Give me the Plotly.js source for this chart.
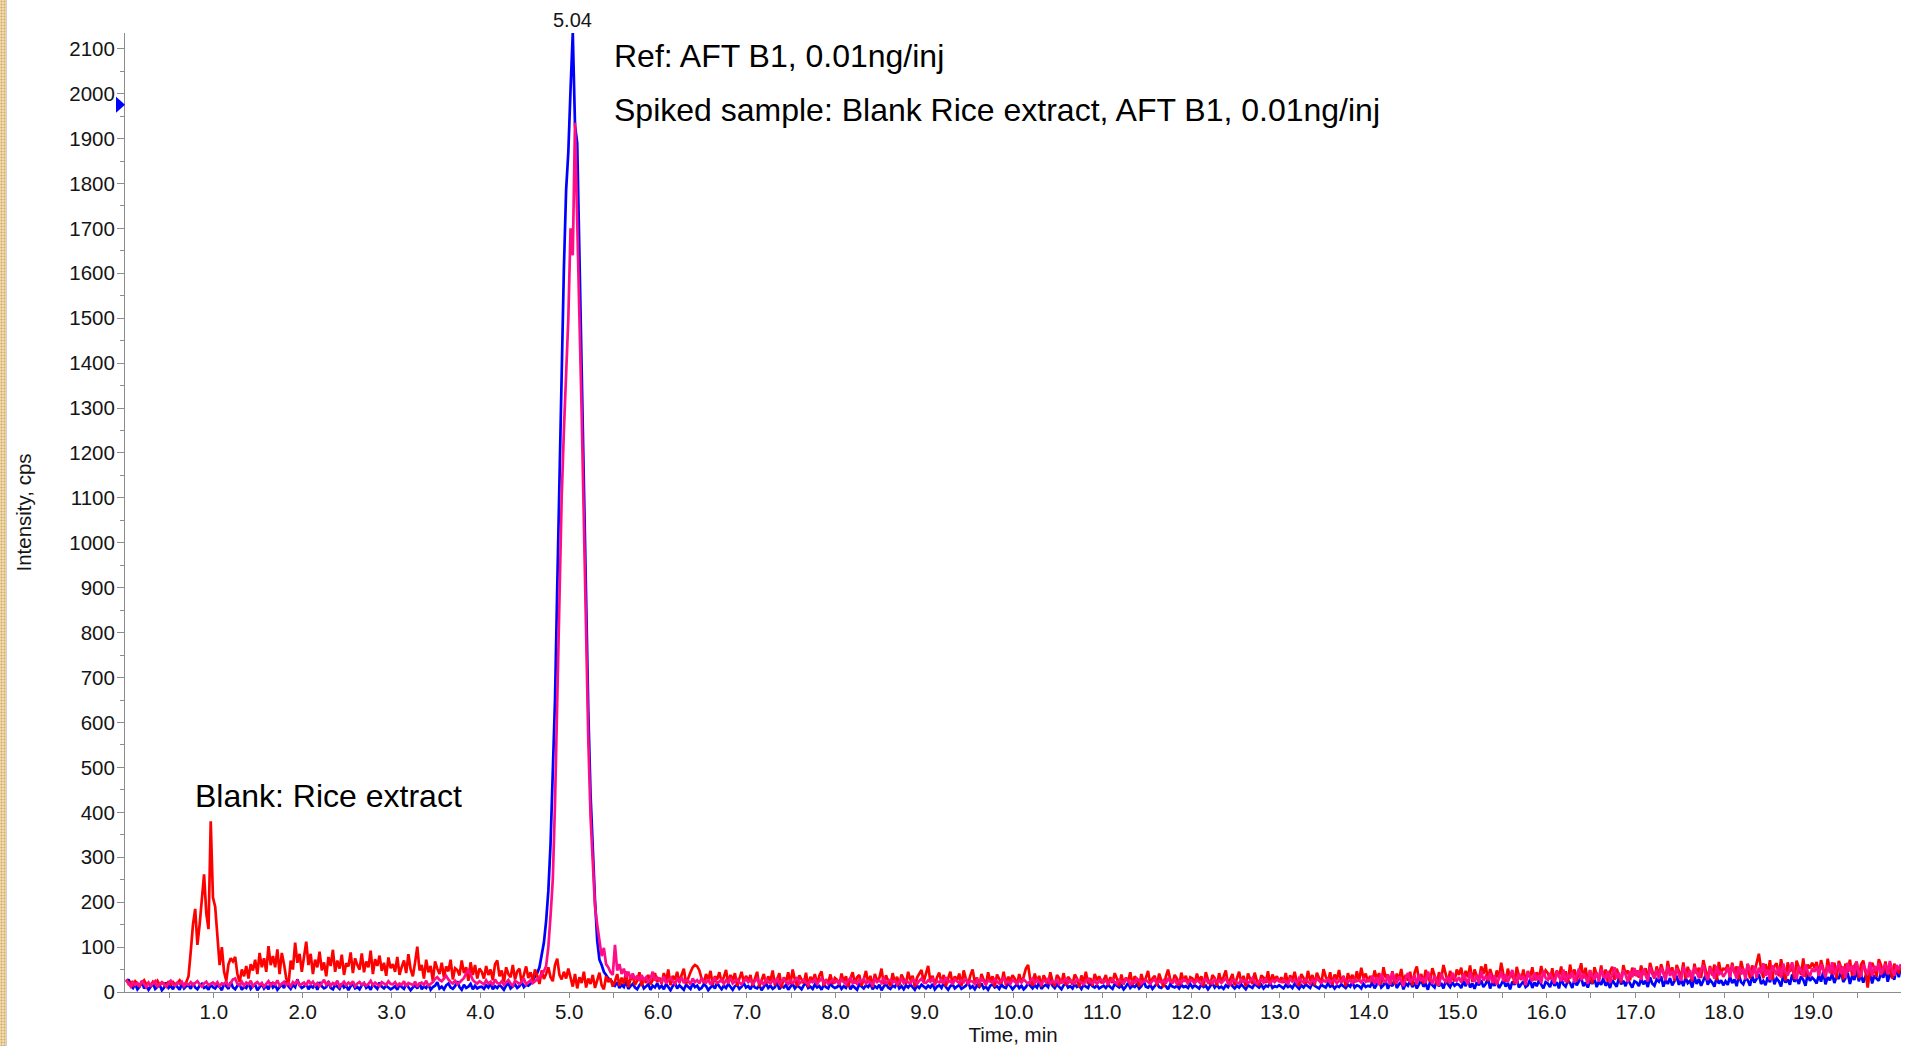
<!DOCTYPE html>
<html>
<head>
<meta charset="utf-8">
<script src="https://cdn.plot.ly/plotly-3.0.1.min.js"></script>
<style>
  html, body { margin: 0; padding: 0; background: #ffffff; overflow: hidden; }
  #chart { position: absolute; left: 0; top: 0; width: 1920px; height: 1046px; }
  #strip {
    position: absolute; left: 0; top: 0; width: 6px; height: 1046px; z-index: 5;
    background-color: #efdcae;
    background-image: radial-gradient(circle, #d8b574 0.9px, transparent 1.2px);
    background-size: 3px 3px;
    border-right: 1px solid #cfcfcf;
  }
</style>
</head>
<body>
<div id="strip"></div>
<div id="chart"></div>
<script>
// ---- sampling of the chromatogram (min) ----
const startTime = 0.015;
const sampleStep = 0.025;

// ---- Ref: AFT B1 standard, 0.01 ng/inj (blue), one row per minute ----
const refIntensity = [
  22,28,14,9,18,6,12,24,8,15,5,13,19,7,11,16,4,10,21,9,14,6,17,12,5,19,8,13,15,7,20,10,6,14,18,9,12,5,16,11,
  8,15,11,4,19,13,7,22,10,6,14,17,5,12,9,20,7,13,16,4,11,18,8,14,6,21,10,15,5,12,17,9,24,13,7,16,11,28,15,9,
  12,19,6,14,10,17,5,22,13,8,11,24,9,6,16,12,7,19,10,14,4,13,18,8,11,6,15,20,9,13,5,17,11,7,21,12,8,14,10,6,
  9,13,5,16,11,7,18,12,4,10,15,8,20,6,13,9,17,5,11,14,22,8,12,6,15,19,10,7,13,24,11,5,16,9,12,18,6,14,8,11,
  12,7,15,10,19,6,13,9,16,11,5,14,20,8,12,17,9,13,22,11,16,14,19,25,35,42,55,82,110,158,225,330,470,650,900,1150,1400,1610,1785,1870,
  2010,2135,1930,1890,1640,1380,1120,860,625,440,300,205,115,72,60,45,38,30,27,20,14,22,9,16,11,25,7,13,18,10,6,15,21,8,12,17,5,14,10,19,
  9,14,6,18,11,4,13,20,8,15,10,5,16,12,7,19,11,14,6,9,17,13,4,10,15,8,21,12,6,14,9,18,11,5,13,16,7,12,20,10,
  13,6,17,10,8,15,4,12,19,9,14,7,11,22,6,13,10,16,5,12,18,8,14,11,6,15,20,9,12,7,17,10,13,5,16,11,8,19,12,9,
  11,16,7,13,9,20,6,14,10,5,17,12,8,15,11,19,6,13,9,16,4,12,18,10,7,14,11,21,8,13,6,15,10,17,12,5,14,9,16,11,
  8,14,10,18,6,12,15,9,20,11,5,13,17,8,12,16,7,10,14,22,9,13,6,15,11,19,8,12,5,14,17,10,13,7,16,11,9,20,12,6,
  12,17,9,14,6,11,19,13,8,15,10,22,7,13,16,11,28,14,9,17,12,6,15,20,10,13,8,18,11,14,7,16,12,9,21,13,10,15,8,12,
  14,9,16,11,7,18,13,10,15,6,12,20,9,14,11,17,8,13,25,12,10,16,7,14,19,11,9,15,13,6,17,12,10,14,8,16,11,13,9,18,
  10,15,12,8,17,11,14,6,13,19,10,16,9,12,7,15,11,21,13,8,14,10,17,12,6,15,11,9,18,13,10,16,8,14,12,20,9,13,11,15,
  12,8,16,11,14,9,18,13,7,15,10,17,12,9,20,14,11,8,16,13,10,19,12,15,8,14,11,17,13,9,16,12,22,10,15,13,8,18,11,14,
  12,22,8,18,26,10,15,24,7,20,13,28,9,17,23,6,19,14,25,11,21,8,16,27,12,19,5,23,15,10,26,13,20,8,24,17,11,22,14,18,
  16,9,24,13,28,10,19,7,22,15,26,11,18,30,8,21,14,25,9,17,27,12,20,6,23,16,29,10,18,24,11,15,28,9,21,13,26,17,8,22,
  19,11,27,14,22,8,30,17,12,25,20,9,28,15,23,33,13,21,10,26,18,29,11,24,16,31,14,22,9,27,19,12,32,17,25,13,28,20,10,24,
  21,13,30,17,25,11,33,19,14,28,23,35,12,26,18,31,15,24,36,16,27,13,32,20,25,10,34,18,29,14,24,37,16,27,21,12,33,19,26,15,
  24,16,34,20,28,13,38,22,17,31,26,14,36,21,29,40,18,25,15,33,22,42,17,30,24,12,37,21,28,16,39,23,31,18,35,27,14,41,25,32,
  27,19,38,23,45,17,33,26,41,20,35,29,48,22,31,43,18,36,27,50,24,39,21,34,28,46,19,37,30,25,44,32,52,23,40,35,28,55,33,58
];

// ---- Spiked sample: blank rice extract + AFT B1, 0.01 ng/inj (pink) ----
const spikedIntensity = [
  26,18,12,22,16,20,14,25,17,11,21,15,19,24,13,18,22,16,12,20,25,17,14,21,18,23,13,19,16,22,15,20,24,17,12,19,23,15,18,21,
  16,22,13,19,17,24,12,20,28,30,18,15,23,14,21,17,25,13,19,22,16,20,12,18,24,15,21,17,26,14,19,23,16,20,13,22,18,25,15,19,
  21,14,26,18,23,15,20,13,19,27,16,22,14,20,17,25,12,18,23,15,21,17,24,13,19,22,16,20,14,18,25,15,21,17,13,22,19,16,24,18,
  17,22,14,19,16,24,13,20,18,15,23,12,19,21,16,25,14,18,22,29,33,27,24,30,36,28,22,19,25,18,21,26,31,42,48,38,27,22,19,24,
  21,17,26,19,23,15,28,20,18,24,16,22,27,19,14,25,21,18,23,30,17,22,26,20,24,28,32,40,46,58,100,170,250,420,650,900,1100,1250,1380,1500,
  1700,1640,1935,1680,1500,1290,1050,780,560,390,270,190,150,108,80,98,62,55,44,38,105,48,62,40,52,33,45,30,41,28,36,25,38,27,33,22,30,45,26,32,
  28,22,35,19,26,31,24,18,29,23,33,20,27,25,17,30,22,26,19,32,24,21,28,17,25,30,20,23,27,18,26,22,31,19,24,28,21,17,25,29,
  22,27,18,25,30,20,24,16,28,23,19,26,21,31,17,24,29,22,18,26,20,25,33,19,23,27,21,17,25,22,28,19,24,30,20,26,18,23,27,21,
  25,19,28,22,17,26,31,20,24,18,27,23,29,19,25,21,16,28,22,26,20,32,18,24,27,21,25,17,23,29,20,26,22,19,28,24,18,25,30,21,
  20,26,23,29,18,24,21,27,19,33,22,25,17,28,24,20,26,22,30,19,25,23,18,27,21,29,24,17,26,22,20,28,23,19,25,31,21,24,18,27,
  23,19,26,21,28,24,18,25,30,20,27,22,17,26,23,29,19,24,21,27,18,25,22,31,20,26,23,19,28,24,21,17,25,29,22,20,26,18,24,27,
  21,26,19,24,28,22,18,27,23,20,29,25,17,24,21,30,26,19,23,27,22,18,25,28,20,24,21,26,19,31,23,22,27,18,25,20,28,24,21,26,
  24,20,27,22,18,26,29,21,25,19,28,23,26,20,24,30,22,17,27,25,21,19,28,23,26,20,24,31,22,18,25,27,21,29,23,20,26,22,28,24,
  22,27,24,19,29,23,26,20,31,25,21,28,24,18,27,22,30,25,20,26,23,29,21,24,28,19,26,23,32,25,22,27,20,29,24,26,21,30,23,27,
  24,36,18,33,15,40,27,21,38,16,44,29,19,35,25,13,31,42,22,28,37,17,39,24,30,20,45,32,18,36,26,14,41,29,23,34,19,43,31,25,
  33,21,40,26,17,44,30,23,38,19,47,25,35,28,42,20,37,16,31,46,24,39,22,34,49,27,18,41,29,36,15,45,32,24,43,26,38,20,48,31,
  27,42,31,19,46,33,24,50,22,39,30,45,21,37,52,26,41,34,18,48,35,28,44,23,51,36,29,47,20,40,55,30,43,25,49,38,22,46,33,53,
  35,48,27,52,38,24,56,40,31,50,29,54,42,26,58,36,47,30,53,39,25,57,43,33,49,28,55,41,32,51,60,37,27,54,44,30,58,38,46,34,
  42,55,33,60,45,30,57,39,52,28,62,46,35,58,31,54,41,64,36,50,27,59,47,38,56,32,63,44,37,53,66,40,29,57,48,34,61,45,35,52,
  45,58,36,62,48,33,60,42,66,38,52,63,40,57,31,65,46,59,37,68,44,34,61,50,39,67,35,58,47,64,38,53,62,41,69,49,36,60,51,62
];

// ---- Blank: rice extract (red) ----
const blankIntensity = [
  28,18,22,15,24,19,13,21,26,17,20,14,23,18,25,16,21,19,13,24,17,22,15,20,26,18,16,22,35,90,150,185,105,150,210,262,175,140,380,210,
  190,125,60,100,45,25,62,75,68,78,40,22,50,35,58,30,62,48,72,40,87,55,75,45,102,60,80,55,95,40,87,62,30,16,70,50,110,65,85,45,
  75,112,60,85,40,72,55,90,48,66,35,78,58,94,45,70,52,83,38,64,57,88,42,75,60,50,86,44,68,55,92,40,73,58,81,47,65,36,77,53,
  62,45,78,38,56,70,42,84,50,35,66,101,48,60,30,72,44,58,25,68,52,40,65,33,57,46,72,28,53,49,37,70,42,55,25,66,38,60,30,52,
  45,30,58,38,50,26,62,70,35,48,22,55,40,33,60,28,46,52,20,42,57,31,44,25,50,36,18,48,29,40,55,33,24,60,74,38,28,45,30,52,
  28,12,40,8,33,20,45,10,30,18,38,9,26,43,15,6,35,22,30,12,24,40,14,32,18,46,11,28,36,16,25,44,13,31,20,38,17,27,42,22,
  32,18,42,24,50,15,36,27,45,20,38,52,18,33,44,55,60,57,48,30,20,40,26,47,16,35,28,44,22,33,49,19,38,26,42,14,31,45,21,36,
  24,38,14,32,45,12,28,40,18,35,25,48,15,30,42,10,33,22,44,17,50,27,13,37,29,19,43,11,34,24,40,16,36,46,14,28,21,39,18,31,
  27,16,41,22,35,12,30,44,19,33,38,14,28,47,20,36,11,40,25,31,52,17,37,24,13,42,21,34,15,39,28,18,45,26,36,12,32,41,49,23,
  40,58,24,36,15,33,43,20,38,13,30,45,18,35,26,41,14,48,29,17,37,50,22,32,11,40,27,16,44,23,35,12,39,30,19,45,15,34,25,37,
  30,16,40,21,34,52,60,26,14,41,22,36,12,37,28,18,44,24,13,38,31,19,42,15,34,27,17,39,30,11,37,22,45,18,31,14,40,26,35,20,
  26,38,15,33,20,42,29,13,39,17,32,24,44,16,35,27,12,40,22,31,47,18,30,36,14,41,25,11,34,50,28,19,38,30,15,43,23,36,17,33,
  30,18,41,24,35,13,44,27,16,38,31,14,42,22,34,48,17,30,40,15,28,45,21,36,12,41,29,18,43,25,14,37,32,20,46,16,39,27,35,22,
  33,20,42,17,37,26,45,22,14,40,31,18,47,25,38,15,43,29,19,51,34,23,44,16,39,28,49,20,36,13,42,27,38,21,46,24,54,30,41,22,
  36,22,48,28,42,18,55,31,39,20,46,17,41,27,51,21,38,25,45,15,43,57,26,40,19,49,33,23,53,37,16,44,29,60,38,21,47,32,24,50,
  38,54,25,47,33,59,22,50,36,28,57,40,62,24,51,34,20,48,30,65,39,23,52,31,45,18,56,35,27,50,21,47,32,55,26,44,29,58,36,48,
  42,28,53,24,48,33,57,27,46,20,61,35,50,25,44,64,30,54,22,49,19,55,38,29,59,32,50,23,45,56,27,52,36,21,60,40,48,26,54,37,
  48,32,59,38,53,27,65,44,30,57,35,62,45,28,69,40,55,25,60,47,33,66,29,56,42,24,63,41,54,31,71,46,28,58,37,61,26,67,43,52,
  50,61,34,65,42,57,28,69,48,36,63,30,59,44,67,85,52,31,62,40,71,27,58,64,35,73,47,26,66,45,60,29,70,51,38,75,33,61,53,65,
  54,67,38,71,52,33,74,49,40,65,30,69,55,28,63,44,72,36,58,67,31,61,70,45,10,48,65,52,34,73,60,42,68,39,59,30,63,50,44,57
];

// ---- axis ticks and labels ----
const xTickVals = [1,2,3,4,5,6,7,8,9,10,11,12,13,14,15,16,17,18,19];
const xTickText = ["1.0","2.0","3.0","4.0","5.0","6.0","7.0","8.0","9.0","10.0","11.0","12.0","13.0","14.0","15.0","16.0","17.0","18.0","19.0"];

// ---- labels ----
const peakTime = 5.04;
const peakLabel = "5.04";
const peakLevel = 2135;
const markerLevel = 1975;   // blue marker on the intensity axis
const noteRef = "Ref: AFT B1, 0.01ng/inj";
const noteSpiked = "Spiked sample: Blank Rice extract, AFT B1, 0.01ng/inj";
const noteBlank = "Blank: Rice extract";

const FONT = "Liberation Sans, Arial, Helvetica, sans-serif";
const AXIS_GREY = "#8c8c8c";
const TEXT = "#151515";

function trace(values, color) {
  return {
    type: "scatter", mode: "lines",
    x0: startTime, dx: sampleStep, y: values,
    line: { color: color, width: 2.7 },
    hoverinfo: "skip"
  };
}

const data = [
  trace(refIntensity, "#0000ff"),
  trace(blankIntensity, "#ff0000"),
  trace(spikedIntensity, "#ff0d86")
];

const layout = {
  width: 1920, height: 1046,
  margin: { l: 125, r: 19, t: 33, b: 54, pad: 0 },
  paper_bgcolor: "#ffffff", plot_bgcolor: "#ffffff",
  showlegend: false,
  font: { family: FONT, color: TEXT },
  xaxis: {
    range: [0, 19.99],
    showline: true, linecolor: AXIS_GREY, linewidth: 1,
    showgrid: false, zeroline: false,
    ticks: "outside", ticklen: 5, tickcolor: AXIS_GREY, tickwidth: 1,
    tickmode: "array", tickvals: xTickVals, ticktext: xTickText,
    tickfont: { size: 20.5, color: TEXT, family: FONT },
    ticklabelstandoff: -4,
    minor: { tickmode: "linear", tick0: 0.5, dtick: 1, ticks: "outside", ticklen: 5, tickcolor: AXIS_GREY, showgrid: false },
    title: { text: "Time, min", font: { size: 20.5, color: TEXT, family: FONT }, standoff: 5 }
  },
  yaxis: {
    range: [0, 2135],
    showline: true, linecolor: AXIS_GREY, linewidth: 1,
    showgrid: false, zeroline: false,
    ticks: "outside", ticklen: 7, tickcolor: AXIS_GREY, tickwidth: 1,
    tickmode: "linear", tick0: 0, dtick: 100,
    tickfont: { size: 20.5, color: TEXT, family: FONT },
    ticklabelstandoff: -2,
    minor: { tickmode: "linear", tick0: 50, dtick: 100, ticks: "outside", ticklen: 4, tickcolor: AXIS_GREY, showgrid: false },
    title: { text: "Intensity, cps", font: { size: 20.5, color: TEXT, family: FONT }, standoff: 32 }
  },
  shapes: [
    {
      type: "path", xref: "paper", yref: "y",
      xsizemode: "pixel", ysizemode: "pixel",
      xanchor: 0, yanchor: markerLevel,
      path: "M -9 -8 L 0 0 L -9 8 Z",
      fillcolor: "#0000ff", line: { width: 0 }
    }
  ],
  annotations: [
    { x: peakTime, y: peakLevel, xref: "x", yref: "y", text: peakLabel, showarrow: false,
      xanchor: "center", yanchor: "bottom", yshift: 0, font: { size: 20, color: TEXT } },
    { x: 5.48, y: 2084, xref: "x", yref: "y", text: noteRef, showarrow: false,
      xanchor: "left", yanchor: "middle", font: { size: 32, color: "#000000" } },
    { x: 5.48, y: 1964, xref: "x", yref: "y", text: noteSpiked, showarrow: false,
      xanchor: "left", yanchor: "middle", font: { size: 32, color: "#000000" } },
    { x: 0.765, y: 437, xref: "x", yref: "y", text: noteBlank, showarrow: false,
      xanchor: "left", yanchor: "middle", font: { size: 32, color: "#000000" } }
  ]
};

Plotly.newPlot("chart", data, layout, { displayModeBar: false, responsive: false });
</script>
</body>
</html>
